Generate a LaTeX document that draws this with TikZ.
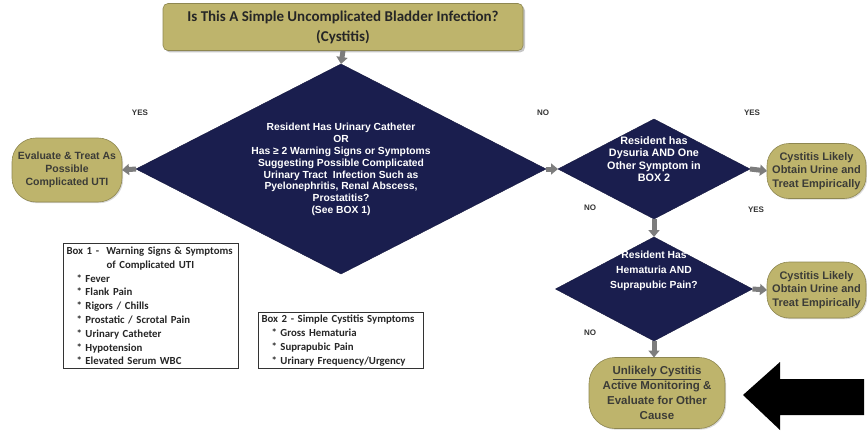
\documentclass[tikz,border=0pt]{standalone}
\usepackage{fontspec}
\setmainfont{Carlito}
\newfontfamily\arialb{Liberation Sans}
\usetikzlibrary{shapes.geometric,arrows.meta,shadows}
\definecolor{olivebox}{RGB}{190,180,108}
\definecolor{navy}{RGB}{26,30,78}
\definecolor{arrowgray}{RGB}{125,125,125}
\definecolor{ovaltext}{RGB}{60,60,55}
\tikzset{
  lbl/.style={font=\arialb\bfseries\fontsize{8}{9}\selectfont, text=black!80},
  dmd/.style={diamond, fill=navy, draw=navy!80!black, inner sep=0pt, outer sep=0pt},
  dtext/.style={font=\arialb\bfseries\fontsize{10.3}{11.8}\selectfont, text=white, align=center},
  pill/.style={rectangle, rounded corners=#1, fill=olivebox, draw=olivebox!75!black, line width=0.6pt,
    align=center, inner sep=0pt, outer sep=0pt, font=\arialb\bfseries\fontsize{10.5}{13.2}\selectfont, text=ovaltext,
    drop shadow={opacity=0.3, shadow xshift=1.2pt, shadow yshift=-1.2pt}},
  garrow/.style={draw=arrowgray, line width=5pt, -{Triangle[width=11pt,length=7pt]}},
  infobox/.style={draw=black!80, line width=1pt, align=left, anchor=north west,
    font=\bfseries\fontsize{10.8}{13.8}\selectfont, text=black!85, inner xsep=3pt, inner ysep=2pt}
}
\begin{document}
\begin{tikzpicture}[x=1pt,y=-1pt]
\useasboundingbox (0,0) rectangle (867,436);

% top box
\node[rectangle, rounded corners=5pt, fill=olivebox, draw=olivebox!75!black, line width=0.6pt,
  minimum width=360pt, minimum height=47pt, align=center, inner sep=0pt,
  font=\bfseries\fontsize{15}{20}\selectfont, text=black!85,
  drop shadow={opacity=0.45, shadow xshift=2pt, shadow yshift=-2pt}] (top) at (343,27)
  {Is This A Simple Uncomplicated Bladder Infection?\\(Cystitis)};

% big diamond
\node[dmd, minimum width=410pt, minimum height=210pt] (d1) at (341,169) {};
\node[dtext] (d1t) at (341,169.5) {Resident Has Urinary Catheter\\OR\\Has ≥ 2 Warning Signs or Symptoms\\Suggesting Possible Complicated\\Urinary Tract\ \ Infection Such as\\Pyelonephritis, Renal Abscess,\\Prostatitis?\\(See BOX 1)};

% left oval
\node[pill=24pt, minimum width=110pt, minimum height=64pt] (o1) at (67,170)
  {Evaluate \& Treat As\\Possible\\Complicated UTI};

% diamond 2
\node[dmd, minimum width=192pt, minimum height=100pt] (d2) at (654,169) {};
\node[dtext, font=\arialb\bfseries\fontsize{10.8}{12.4}\selectfont] (d2t) at (654,159) {Resident has\\Dysuria AND One\\Other Symptom in\\BOX 2};

% right oval 1
\node[pill=22pt, minimum width=99pt, minimum height=55pt, font=\arialb\bfseries\fontsize{11}{13.2}\selectfont] (o2) at (816.5,171)
  {Cystitis Likely\\Obtain Urine and\\Treat Empirically};

% diamond 3
\node[dmd, minimum width=197pt, minimum height=104pt] (d3) at (654,289) {};
\node[dtext, font=\arialb\bfseries\fontsize{10.3}{15}\selectfont] (d3t) at (654,271) {Resident Has\\Hematuria AND\\Suprapubic Pain?};

% right oval 2
\node[pill=22pt, minimum width=99pt, minimum height=56pt, font=\arialb\bfseries\fontsize{11}{13.2}\selectfont] (o3) at (816.5,290)
  {Cystitis Likely\\Obtain Urine and\\Treat Empirically};

% bottom oval
\node[pill=26pt, minimum width=136pt, minimum height=71pt, font=\arialb\bfseries\fontsize{11.5}{14.8}\selectfont] (o4) at (657,393)
  {\underline{Unlikely Cystitis}\\Active Monitoring \&\\Evaluate for Other\\Cause};

% arrows
\draw[garrow] (top.south) -- (d1.north);
\draw[garrow] (d1.west) -- (o1.east);
\draw[garrow] (d1.east) -- (d2.west);
\draw[garrow] (d2.east) -- (o2.west);
\draw[garrow] (d2.south) -- (d3.north);
\draw[garrow] (d3.east) -- (o3.west);
\draw[garrow] (d3.south) -- (o4.north -| d3.south);

% labels
\node[lbl] (y1) at (140,113) {YES};
\node[lbl] (n1) at (543,113) {NO};
\node[lbl] (y2) at (752,113) {YES};
\node[lbl] (n2) at (590,208) {NO};
\node[lbl] (y3) at (756,210) {YES};
\node[lbl] (n3) at (590,333) {NO};

% info boxes
\node[infobox, text width=169pt, minimum height=125pt] (b1) at (63,243)
  {Box 1 -\ \ Warning Signs \& Symptoms\\
   \hspace*{40pt}of Complicated UTI\\
   \hspace*{10pt}* Fever\\
   \hspace*{10pt}* Flank Pain\\
   \hspace*{10pt}* Rigors / Chills\\
   \hspace*{10pt}* Prostatic / Scrotal Pain\\
   \hspace*{10pt}* Urinary Catheter\\
   \hspace*{10pt}* Hypotension\\
   \hspace*{10pt}* Elevated Serum WBC};
\node[infobox, text width=159pt, minimum height=56pt] (b2) at (258,312)
  {Box 2 - Simple Cystitis Symptoms\\
   \hspace*{10pt}* Gross Hematuria\\
   \hspace*{10pt}* Suprapubic Pain\\
   \hspace*{10pt}* Urinary Frequency/Urgency};

% big black arrow
\fill[black] (743,395) -- (780,362) -- (780,379) -- (864,379) -- (864,415) -- (780,415) -- (780,430) -- cycle;
\end{tikzpicture}
\end{document}
